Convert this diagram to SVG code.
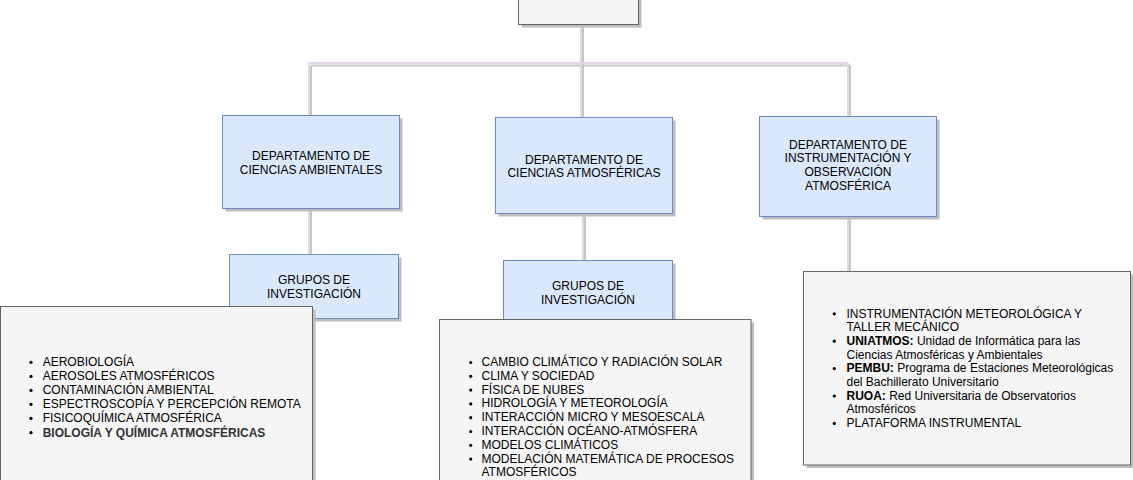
<svg xmlns="http://www.w3.org/2000/svg" width="1133" height="480" viewBox="0 0 1133 480">
<style>
  .blue{fill:#dae8fc;stroke:#6c8ebf;stroke-width:1}
  .gray{fill:#f5f5f5;stroke:#666666;stroke-width:1}
  .shadow{fill:#bdbdbd;stroke:none}
  .t{font-family:"Liberation Sans",Arial,Helvetica,sans-serif;font-size:12px;fill:#000000}
  .c{text-anchor:middle}
  .b{font-weight:bold}
  .edge{fill:none;stroke:#e1d5e7;stroke-width:2}
  .edgeS{fill:none;stroke:#c6c6c6;stroke-width:2}
  .dot{fill:#000000}
</style>
<rect width="1133" height="480" fill="#ffffff"/>
<g id="connectors">
  <g transform="translate(2,2.5)">
    <path class="edgeS" d="M581 25 V63 M309 63 H848 M309 63 V115 M581 63 V117 M848 63 V116"/>
    <path class="edgeS" d="M309 209 V254 M583 214 V260 M848 217 V271"/>
  </g>
  <path class="edge" d="M581 25 V63 M309 63 H848 M309 63 V115 M581 63 V117 M848 63 V116"/>
  <path class="edge" d="M309 209 V254 M583 214 V260 M848 217 V271"/>
</g>
<g id="top">
  <rect class="shadow" x="521.5" y="-7" width="120" height="34.5"/>
  <rect class="gray" x="518.5" y="-10" width="120" height="34.5"/>
</g>
<g id="dept-ambientales">
  <rect class="shadow" x="225.5" y="118.5" width="177" height="93"/>
  <rect class="blue" x="222.5" y="115.5" width="177" height="93"/>
  <text class="t c" x="311" y="160.3">DEPARTAMENTO DE</text>
  <text class="t c" x="311" y="174.3">CIENCIAS AMBIENTALES</text>
</g>
<g id="dept-atmosfericas">
  <rect class="shadow" x="498.5" y="120.5" width="177" height="96"/>
  <rect class="blue" x="495.5" y="117.5" width="177" height="96"/>
  <text class="t c" x="584" y="163.5">DEPARTAMENTO DE</text>
  <text class="t c" x="584" y="177">CIENCIAS ATMOSFÉRICAS</text>
</g>
<g id="dept-instrumentacion">
  <rect class="shadow" x="762.5" y="119.5" width="177" height="100"/>
  <rect class="blue" x="759.5" y="116.5" width="177" height="100"/>
  <text class="t c" x="848" y="148.5">DEPARTAMENTO DE</text>
  <text class="t c" x="848" y="162.3">INSTRUMENTACIÓN Y</text>
  <text class="t c" x="848" y="176.2">OBSERVACIÓN</text>
  <text class="t c" x="848" y="190">ATMOSFÉRICA</text>
</g>
<g id="grupos-ambientales">
  <rect class="shadow" x="232.5" y="257.5" width="169" height="64"/>
  <rect class="blue" x="229.5" y="254.5" width="169" height="64"/>
  <text class="t c" x="314" y="284.3">GRUPOS DE</text>
  <text class="t c" x="314" y="297.8">INVESTIGACIÓN</text>
</g>
<g id="grupos-atmosfericas">
  <rect class="shadow" x="506.5" y="263.5" width="169" height="64"/>
  <rect class="blue" x="503.5" y="260.5" width="169" height="64"/>
  <text class="t c" x="588" y="290">GRUPOS DE</text>
  <text class="t c" x="588" y="303.5">INVESTIGACIÓN</text>
</g>
<g id="lista-ambientales">
  <rect class="shadow" x="3.5" y="309.5" width="312" height="190"/>
  <rect class="gray" x="0.5" y="306.5" width="312" height="190"/>
  <circle class="dot" cx="31" cy="362.3" r="1.6"/>
  <circle class="dot" cx="31" cy="376.4" r="1.6"/>
  <circle class="dot" cx="31" cy="390.4" r="1.6"/>
  <circle class="dot" cx="31" cy="404.4" r="1.6"/>
  <circle class="dot" cx="31" cy="418.4" r="1.6"/>
  <circle class="dot" cx="31" cy="432.7" r="1.6"/>
  <text class="t" x="42.7" y="366">AEROBIOLOGÍA</text>
  <text class="t" x="42.7" y="380.2">AEROSOLES ATMOSFÉRICOS</text>
  <text class="t" x="42.7" y="394.2">CONTAMINACIÓN AMBIENTAL</text>
  <text class="t" x="42.7" y="408.2">ESPECTROSCOPÍA Y PERCEPCIÓN REMOTA</text>
  <text class="t" x="42.7" y="422.2">FISICOQUÍMICA ATMOSFÉRICA</text>
  <text class="t b" x="42.7" y="436.5" style="fill:#333333">BIOLOGÍA Y QUÍMICA ATMOSFÉRICAS</text>
</g>
<g id="lista-atmosfericas">
  <rect class="shadow" x="442.5" y="322.5" width="311.5" height="180"/>
  <rect class="gray" x="439.5" y="319.5" width="311.5" height="180"/>
  <circle class="dot" cx="470.7" cy="362.5" r="1.6"/>
  <circle class="dot" cx="470.7" cy="376.3" r="1.6"/>
  <circle class="dot" cx="470.7" cy="390.1" r="1.6"/>
  <circle class="dot" cx="470.7" cy="403.9" r="1.6"/>
  <circle class="dot" cx="470.7" cy="417.7" r="1.6"/>
  <circle class="dot" cx="470.7" cy="431.5" r="1.6"/>
  <circle class="dot" cx="470.7" cy="445.3" r="1.6"/>
  <circle class="dot" cx="470.7" cy="459.1" r="1.6"/>
  <text class="t" x="481.5" y="366">CAMBIO CLIMÁTICO Y RADIACIÓN SOLAR</text>
  <text class="t" x="481.5" y="379.8">CLIMA Y SOCIEDAD</text>
  <text class="t" x="481.5" y="393.6">FÍSICA DE NUBES</text>
  <text class="t" x="481.5" y="407.4">HIDROLOGÍA Y METEOROLOGÍA</text>
  <text class="t" x="481.5" y="421.2">INTERACCIÓN MICRO Y MESOESCALA</text>
  <text class="t" x="481.5" y="435">INTERACCIÓN OCÉANO-ATMÓSFERA</text>
  <text class="t" x="481.5" y="448.8">MODELOS CLIMÁTICOS</text>
  <text class="t" x="481.5" y="462.6">MODELACIÓN MATEMÁTICA DE PROCESOS</text>
  <text class="t" x="481.5" y="476.4">ATMOSFÉRICOS</text>
</g>
<g id="lista-instrumentacion">
  <rect class="shadow" x="806.5" y="274.5" width="327" height="193.5"/>
  <rect class="gray" x="803.5" y="271.5" width="327" height="193.5"/>
  <circle class="dot" cx="834.3" cy="313.8" r="1.6"/>
  <circle class="dot" cx="834.3" cy="341.2" r="1.6"/>
  <circle class="dot" cx="834.3" cy="368.6" r="1.6"/>
  <circle class="dot" cx="834.3" cy="396" r="1.6"/>
  <circle class="dot" cx="834.3" cy="423.4" r="1.6"/>
  <text class="t" x="846.5" y="317.5">INSTRUMENTACIÓN METEOROLÓGICA Y</text>
  <text class="t" x="846.5" y="331.2">TALLER MECÁNICO</text>
  <text class="t" x="846.5" y="344.9"><tspan class="b">UNIATMOS:</tspan> Unidad de Informática para las</text>
  <text class="t" x="846.5" y="358.6">Ciencias Atmosféricas y Ambientales</text>
  <text class="t" x="846.5" y="372.3"><tspan class="b">PEMBU:</tspan> Programa de Estaciones Meteorológicas</text>
  <text class="t" x="846.5" y="386">del Bachillerato Universitario</text>
  <text class="t" x="846.5" y="399.7"><tspan class="b">RUOA:</tspan> Red Universitaria de Observatorios</text>
  <text class="t" x="846.5" y="413.4">Atmosféricos</text>
  <text class="t" x="846.5" y="427.1">PLATAFORMA INSTRUMENTAL</text>
</g>
</svg>
